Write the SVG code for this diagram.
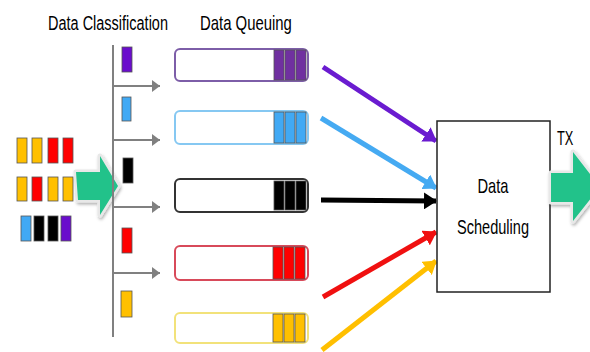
<svg xmlns="http://www.w3.org/2000/svg" width="590" height="352" viewBox="0 0 590 352">
  <defs>
    <marker id="gh" viewBox="0 0 8 12" refX="8" refY="6" markerWidth="8" markerHeight="12" orient="auto" markerUnits="userSpaceOnUse">
      <path d="M0,0 L8,6 L0,12 z" fill="#808080"/>
    </marker>
    <marker id="ah-purple" viewBox="0 0 13 17" refX="12" refY="8.5" markerWidth="13" markerHeight="17" orient="auto" markerUnits="userSpaceOnUse">
      <path d="M0,0 L13,8.5 L0,17 z" fill="#6a1bd0"/>
    </marker>
    <marker id="ah-blue" viewBox="0 0 13 17" refX="12" refY="8.5" markerWidth="13" markerHeight="17" orient="auto" markerUnits="userSpaceOnUse">
      <path d="M0,0 L13,8.5 L0,17 z" fill="#45aaf2"/>
    </marker>
    <marker id="ah-black" viewBox="0 0 13 17" refX="12" refY="8.5" markerWidth="13" markerHeight="17" orient="auto" markerUnits="userSpaceOnUse">
      <path d="M0,0 L13,8.5 L0,17 z" fill="#000"/>
    </marker>
    <marker id="ah-red" viewBox="0 0 13 17" refX="12" refY="8.5" markerWidth="13" markerHeight="17" orient="auto" markerUnits="userSpaceOnUse">
      <path d="M0,0 L13,8.5 L0,17 z" fill="#f01010"/>
    </marker>
    <marker id="ah-yellow" viewBox="0 0 13 17" refX="12" refY="8.5" markerWidth="13" markerHeight="17" orient="auto" markerUnits="userSpaceOnUse">
      <path d="M0,0 L13,8.5 L0,17 z" fill="#ffbf00"/>
    </marker>
    <filter id="sh" x="-30%" y="-30%" width="160%" height="160%">
      <feDropShadow dx="1" dy="2" stdDeviation="1.5" flood-color="#000" flood-opacity="0.3"/>
    </filter>
  </defs>
  <style>
    .lbl { font-family: "Liberation Sans", "Open Sans", sans-serif; font-size: 20px; fill: #000; }
    .pk { stroke: #555; stroke-width: 0.8; }
    .q { fill: #fff; stroke-width: 2; }
    .br { stroke: #808080; stroke-width: 2; fill: none; }
    .fl { stroke-width: 5; fill: none; }
    .purple { fill: #6a0dcc; }
    .qpurple { fill: #7030a0; }
    .blue { fill: #41a9f4; }
    .black { fill: #000; }
    .red { fill: #ff0000; }
    .yellow { fill: #ffc000; }
    .green { fill: #22c28a; }
  </style>

  <rect width="590" height="352" fill="#fff"/>

  <!-- headings (narrow lettering via horizontal scale) -->
  <text class="lbl" transform="translate(48,30) scale(0.725,1)">Data Classification</text>
  <text class="lbl" transform="translate(200,30) scale(0.745,1)">Data Queuing</text>

  <!-- incoming packets -->
  <g id="input-packets">
    <rect class="pk yellow" x="17" y="138" width="10" height="25"/>
    <rect class="pk yellow" x="32" y="138" width="10" height="25"/>
    <rect class="pk red" x="48" y="138" width="10" height="25"/>
    <rect class="pk red" x="63" y="138" width="10" height="25"/>
    <rect class="pk yellow" x="17" y="177" width="10" height="24"/>
    <rect class="pk red" x="32" y="177" width="10" height="24"/>
    <rect class="pk yellow" x="48" y="177" width="10" height="24"/>
    <rect class="pk yellow" x="63" y="177" width="10" height="24"/>
    <rect class="pk blue" x="21" y="216" width="10" height="25"/>
    <rect class="pk black" x="34" y="216" width="10" height="25"/>
    <rect class="pk black" x="48" y="216" width="10" height="25"/>
    <rect class="pk purple" x="61" y="216" width="10" height="25"/>
  </g>

  <!-- input arrow -->
  <g id="input-arrow">
    <path d="M76,172 L100,172 L100,156 L118,186 L100,215 L100,200 L78,200 Z" fill="#fff" stroke="#e8e8e8" stroke-width="5" stroke-linejoin="round" filter="url(#sh)"/>
    <path class="green" d="M76,172 L100,172 L100,156 L118,186 L100,215 L100,200 L78,200 Z"/>
  </g>

  <!-- classifier bus -->
  <g id="classifier">
    <line class="br" x1="113" y1="45" x2="113" y2="337"/>
    <line class="br" x1="113" y1="86" x2="160" y2="86" marker-end="url(#gh)"/>
    <line class="br" x1="113" y1="140" x2="160" y2="140" marker-end="url(#gh)"/>
    <line class="br" x1="113" y1="207" x2="160" y2="207" marker-end="url(#gh)"/>
    <line class="br" x1="113" y1="273" x2="160" y2="273" marker-end="url(#gh)"/>
    <rect class="pk purple" x="122" y="47" width="10" height="25"/>
    <rect class="pk blue" x="122" y="97" width="9" height="24"/>
    <rect class="pk black" x="123" y="158" width="10" height="25"/>
    <rect class="pk red" x="122" y="228" width="10" height="25"/>
    <rect class="pk yellow" x="121" y="291" width="11" height="26"/>
  </g>

  <!-- queues -->
  <g id="queue-purple">
    <rect class="q" x="175" y="49" width="133" height="32" rx="5" stroke="#7d5ea8"/>
    <rect class="pk qpurple" x="274" y="50" width="10" height="30"/>
    <rect class="pk qpurple" x="285" y="50" width="10" height="30"/>
    <rect class="pk qpurple" x="296" y="50" width="10" height="30"/>
  </g>
  <g id="queue-blue">
    <rect class="q" x="175" y="111" width="133" height="33" rx="5" stroke="#86c8f2"/>
    <rect class="pk blue" x="274" y="112" width="10" height="31"/>
    <rect class="pk blue" x="285" y="112" width="10" height="31"/>
    <rect class="pk blue" x="296" y="112" width="10" height="31"/>
  </g>
  <g id="queue-black">
    <rect class="q" x="175" y="179" width="133" height="33" rx="5" stroke="#333"/>
    <rect class="pk black" x="274" y="181" width="10" height="29"/>
    <rect class="pk black" x="285" y="181" width="10" height="29"/>
    <rect class="pk black" x="296" y="181" width="10" height="29"/>
  </g>
  <g id="queue-red">
    <rect class="q" x="175" y="246" width="133" height="34" rx="5" stroke="#d84a5a"/>
    <rect class="pk red" x="273" y="247" width="10" height="32"/>
    <rect class="pk red" x="284" y="247" width="10" height="32"/>
    <rect class="pk red" x="295" y="247" width="10" height="32"/>
  </g>
  <g id="queue-yellow">
    <rect class="q" x="175" y="313" width="133" height="30" rx="5" stroke="#f2e27a"/>
    <rect class="pk yellow" x="273" y="314" width="10" height="28"/>
    <rect class="pk yellow" x="284" y="314" width="10" height="28"/>
    <rect class="pk yellow" x="295" y="314" width="10" height="28"/>
  </g>

  <!-- queue to scheduler connectors -->
  <g id="connectors">
    <line class="fl" x1="323" y1="67" x2="436" y2="141" stroke="#6a1bd0" marker-end="url(#ah-purple)"/>
    <line class="fl" x1="321" y1="118" x2="436" y2="188" stroke="#45aaf2" marker-end="url(#ah-blue)"/>
    <line class="fl" x1="321" y1="200" x2="436" y2="201" stroke="#000" marker-end="url(#ah-black)"/>
    <line class="fl" x1="323" y1="297" x2="436" y2="232" stroke="#f01010" marker-end="url(#ah-red)"/>
    <line class="fl" x1="322" y1="350" x2="436" y2="261" stroke="#ffbf00" marker-end="url(#ah-yellow)"/>
  </g>

  <!-- scheduler -->
  <g id="scheduler">
    <rect x="437" y="121" width="113" height="171" fill="#fff" stroke="#222" stroke-width="1.5"/>
    <text class="lbl" transform="translate(493,193) scale(0.734,1)" text-anchor="middle">Data</text>
    <text class="lbl" transform="translate(493,234) scale(0.728,1)" text-anchor="middle">Scheduling</text>
  </g>

  <!-- transmit output -->
  <g id="tx">
    <text class="lbl" transform="translate(557,145) scale(0.64,1)">TX</text>
    <path d="M551,173 L573,173 L573,152 L600,187 L573,221 L573,202 L551,202 Z" fill="#fff" stroke="#e8e8e8" stroke-width="5" stroke-linejoin="round" filter="url(#sh)"/>
    <path class="green" d="M551,173 L573,173 L573,152 L600,187 L573,221 L573,202 L551,202 Z"/>
  </g>
</svg>
